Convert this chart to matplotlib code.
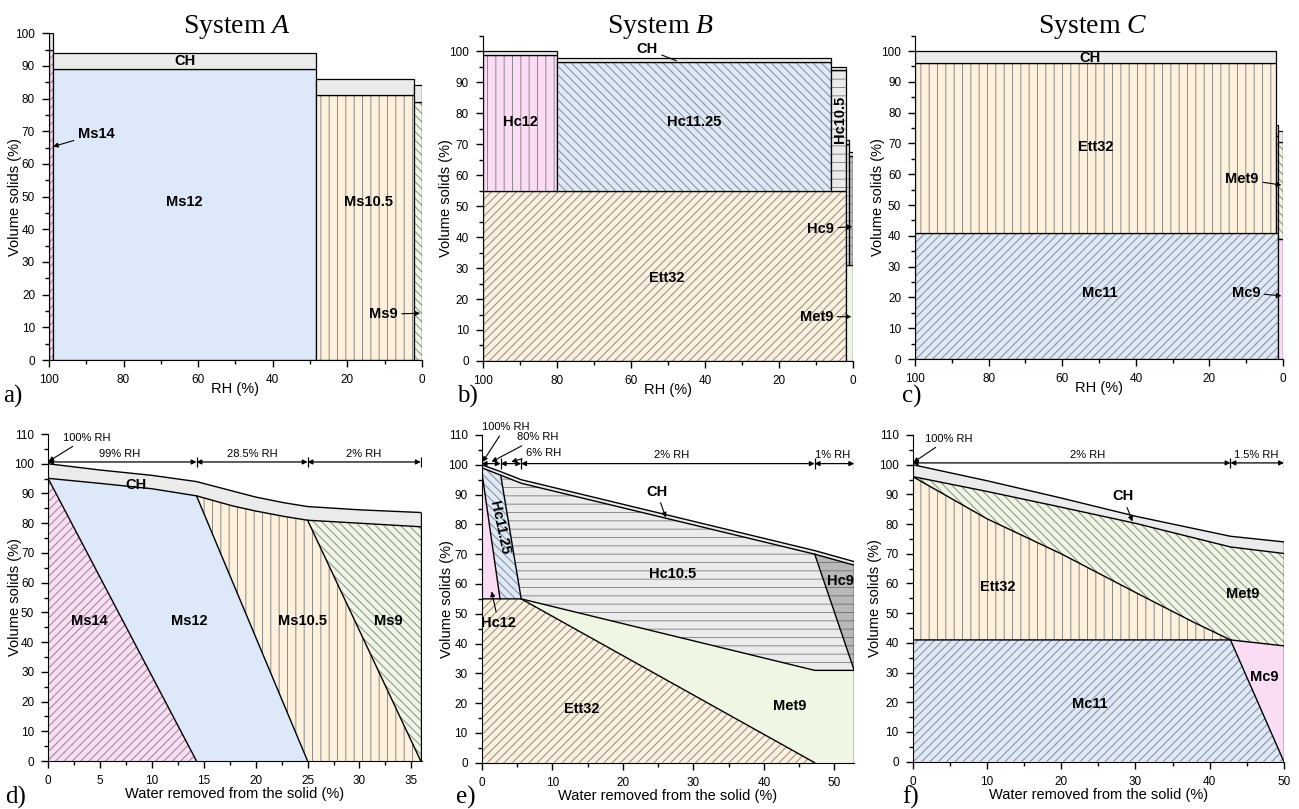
import numpy as np
import matplotlib
matplotlib.use('Agg')
import matplotlib.pyplot as plt
from matplotlib.ticker import MultipleLocator

plt.rcParams['font.family'] = ['Liberation Sans', 'DejaVu Sans']
plt.rcParams['mathtext.fontset'] = 'custom'
plt.rcParams['mathtext.rm'] = 'Liberation Serif'
plt.rcParams['mathtext.it'] = 'Liberation Serif:italic'
plt.rcParams['hatch.linewidth'] = 0.7

PINK = '#fbdcf5'
BLUE = '#dde8f8'
CREAM = '#fdf0dc'
GREEN = '#eff7e4'
LGRAY = '#ebebeb'
DGRAY = '#b8b8b8'
HATCH = '#8a8a8a'

# ---------- panels a-c : phase volumes per RH step ----------
rh_a = [100, 99, 28.5, 2, 0]
ms14_a = [95, 0, 0, 0]
ms12_a = [0, 89, 0, 0]
ms105_a = [0, 0, 81, 0]
ms9_a = [0, 0, 0, 79]
ch_a = [5, 5, 5, 5]

rh_b = [100, 80, 6, 2, 1, 0]
ett32_b = [55, 55, 55, 0, 0]
met9_b = [0, 0, 0, 31, 31]
hc12_b = [43.7, 0, 0, 0, 0]
hc1125_b = [0, 41.5, 0, 0, 0]
hc105_b = [0, 0, 38.8, 39, 0]
hc9_b = [0, 0, 0, 0, 35.3]
ch_b = [1.3, 1.2, 1.2, 1.2, 1.2]

rh_c = [100, 2, 1.5, 0]
mc11_c = [41, 41, 0]
mc9_c = [0, 0, 39]
ett32_c = [55, 0, 0]
met9_c = [0, 31.5, 31.5]
ch_c = [4, 3.5, 3.5]

# ---------- panel d ----------
d_x = [0, 5, 10, 14.3, 17.8, 20, 22.7, 25, 30, 35.9]
d_ch_top = [100, 97.9, 96.1, 94, 90.8, 88.8, 86.9, 85.6, 84.5, 83.6]
d_ch_bot = [95.1, 93.4, 91.6, 89.2, 85.8, 84.1, 82.3, 81, 80, 78.8]
d_front_top = [0, 0, 14.3, 25, 35.9]     # phase fronts, x at CH line
d_front_bot = [0, 14.3, 25, 35.9, 35.9]  # phase fronts, x at zero
d_steps = [0, 14.3, 25, 35.9]
d_step_lab = ['99% RH', '28.5% RH', '2% RH']
d_step_lx = [6.85, 19.7, 30.4]

# ---------- panel e ----------
e_x = [0, 2.7, 5.6, 47.2, 52.8]
e_ch_top = [100, 97.7, 95, 71.2, 67.5]
e_ch_bot = [99, 96.5, 93.8, 70, 66.3]
e_hc12_x = [0, 2.6]
e_hc12_y = [98, 55]
e_hc1125_x = [2.7, 5.6]
e_hc1125_y = [96.5, 55]
e_ett_x = [0, 5.6, 47.2]
e_ett_y = [55, 55, 0]
e_met_x = [5.6, 47.2, 52.8]
e_met_y = [55, 31, 31]
e_hc9_x = [47.2, 52.8]
e_hc9_y = [70, 31]
e_steps = [0, 2.7, 5.6, 47.2, 52.8]
e_step_lab = [None, None, '2% RH', '1% RH']
e_step_lx = [0, 0, 26.9, 49.8]

# ---------- panel f ----------
f_x = [0, 10, 19.8, 30.1, 42.8, 50]
f_ch_top = [100, 94.6, 88.9, 82.6, 75.9, 74]
f_ch_bot = [96, 91, 85.8, 80.2, 72.3, 70.1]
f_ett_x = [0, 5, 10, 20, 30, 37.8, 42.8]
f_ett_y = [96, 88.9, 81.8, 70, 57, 47, 41]
f_mc_x = [0, 42.8, 50]
f_mc_y = [41, 41, 39]
f_front_x = [42.8, 50]
f_front_y = [41, 0]
f_steps = [0, 42.8, 50]
f_step_lab = ['2% RH', '1.5% RH']
f_step_lx = [23.6, 46.3]


def style(ax, xlim, ylim, xmaj, xmin, xlabel, lpad, ylx):
    ax.set_xlim(*xlim)
    ax.set_ylim(*ylim)
    ax.spines[['top', 'right']].set_visible(False)
    ax.xaxis.set_major_locator(MultipleLocator(xmaj))
    ax.xaxis.set_minor_locator(MultipleLocator(xmin))
    ax.yaxis.set_major_locator(MultipleLocator(10))
    ax.yaxis.set_minor_locator(MultipleLocator(5))
    ax.tick_params(which='major', direction='out', length=5, width=1, labelsize=8.5, pad=5)
    ax.tick_params(which='minor', direction='out', length=3, width=1)
    ax.set_ylabel('Volume solids (%)', fontsize=10.5)
    ax.yaxis.set_label_coords(ylx, 0.5)
    ax.set_xlabel(xlabel, fontsize=10.5, labelpad=lpad)


def steps(ax, edges, layers):
    edges = np.asarray(edges, float)
    n = len(edges) - 1
    base = np.zeros(n)
    for vals, fc, hatch in layers:
        vals = np.asarray(vals, float)
        i = 0
        while i < n:
            if vals[i] <= 0:
                i += 1
                continue
            j = i
            while j + 1 < n and vals[j + 1] == vals[i] and base[j + 1] == base[i]:
                j += 1
            x0, w = edges[i], edges[j + 1] - edges[i]
            ax.bar(x0, vals[i], w, bottom=base[i], align='edge', color=fc,
                   edgecolor=HATCH, hatch=hatch, linewidth=0)
            ax.bar(x0, vals[i], w, bottom=base[i], align='edge', fill=False,
                   edgecolor='k', linewidth=0.9)
            i = j + 1
        base = base + vals


def seg(x, y, a, b):
    xs = [a] + [v for v in x if a < v < b] + [b]
    return xs, list(np.interp(xs, x, y))


def poly(ax, xs, ys, fc, hatch=None, ec=HATCH):
    ax.fill(xs, ys, facecolor=fc, edgecolor=ec, hatch=hatch, linewidth=0)


def label(ax, x, y, s, **kw):
    ax.text(x, y, s, ha='center', va='center', fontsize=10.5, fontweight='bold', **kw)


def pointer(ax, s, tip, pos, bold=True, fs=10.5, ha='center'):
    ax.annotate(s, xy=tip, xytext=pos, ha=ha, va='center', fontsize=fs,
                fontweight='bold' if bold else 'normal',
                arrowprops=dict(arrowstyle='-|>', color='k', lw=0.8, mutation_scale=7,
                                shrinkA=1, shrinkB=0))


def rh_bar(ax, edges, labs, lxs, y=100.6, ly=103.4):
    for x0, x1, lab, lx in zip(edges[:-1], edges[1:], labs, lxs):
        ax.annotate('', xy=(x1, y), xytext=(x0, y),
                    arrowprops=dict(arrowstyle='<|-|>', color='k', lw=0.9, mutation_scale=7,
                                    shrinkA=0, shrinkB=0))
        if lab:
            ax.text(lx, ly, lab, ha='center', va='center', fontsize=8)
    ax.vlines(edges[1:], y - 1.8, y + 1.8, color='k', lw=0.9)


fig = plt.figure(figsize=(12.99, 8.09), dpi=100)
ax_a = fig.add_axes([0.0377, 0.555, 0.287, 0.404])
ax_b = fig.add_axes([0.3716, 0.5538, 0.2851, 0.4021])
ax_c = fig.add_axes([0.7044, 0.5562, 0.2833, 0.3997])
ax_d = fig.add_axes([0.0370, 0.0593, 0.2877, 0.4042])
ax_e = fig.add_axes([0.3708, 0.0572, 0.2868, 0.4051])
ax_f = fig.add_axes([0.7026, 0.0585, 0.2858, 0.4038])

# ---- a ----
steps(ax_a, rh_a, [(ms14_a, PINK, '////'), (ms12_a, BLUE, None), (ms105_a, CREAM, '||'),
                   (ms9_a, GREEN, '\\\\\\\\'), (ch_a, LGRAY, None)])
style(ax_a, (100, 0), (0, 100), 20, 10, 'RH (%)', -2.5, -0.073)
label(ax_a, 63.5, 91.5, 'CH')
label(ax_a, 63.8, 48.2, 'Ms12')
label(ax_a, 14.3, 48.2, 'Ms10.5')
pointer(ax_a, 'Ms14', (98.9, 65.3), (87.3, 69.2))
pointer(ax_a, 'Ms9', (0.45, 14.3), (10.3, 14))

# ---- b ----
steps(ax_b, rh_b, [(ett32_b, CREAM, '////'), (met9_b, GREEN, None), (hc12_b, PINK, '||'),
                   (hc1125_b, BLUE, '\\\\\\\\'), (hc105_b, LGRAY, '--'), (hc9_b, DGRAY, '--'),
                   (ch_b, LGRAY, None)])
style(ax_b, (100, 0), (0, 105), 20, 10, 'RH (%)', -2.5, -0.081)
label(ax_b, 89.7, 77, 'Hc12')
label(ax_b, 42.9, 77, 'Hc11.25')
label(ax_b, 50.4, 26.7, 'Ett32')
label(ax_b, 3.4, 77.9, 'Hc10.5', rotation=90)
ax_b.annotate('CH', xy=(47.7, 96.9), xytext=(55.6, 100.6), ha='center', va='center', fontsize=10.5,
              fontweight='bold', arrowprops=dict(arrowstyle='-', color='k', lw=0.8, shrinkA=1, shrinkB=0))
pointer(ax_b, 'Hc9', (0.2, 43.4), (8.8, 42.6))
pointer(ax_b, 'Met9', (0.45, 14.3), (9.9, 14.3))

# ---- c ----
steps(ax_c, rh_c, [(mc11_c, BLUE, '////'), (mc9_c, PINK, None), (ett32_c, CREAM, '||'),
                   (met9_c, GREEN, '\\\\\\\\'), (ch_c, LGRAY, None)])
style(ax_c, (100, 0), (0, 105), 20, 10, 'RH (%)', -2.5, -0.082)
label(ax_c, 52.5, 97.6, 'CH')
label(ax_c, 51, 69, 'Ett32')
label(ax_c, 49.8, 21.6, 'Mc11')
pointer(ax_c, 'Met9', (0.45, 56.5), (11.1, 58.4))
pointer(ax_c, 'Mc9', (0.45, 20.5), (10.1, 21.6))

# ---- d ----
d_fc = [(PINK, '////'), (BLUE, None), (CREAM, '||'), (GREEN, '\\\\\\\\')]
for i, (fc, h) in enumerate(d_fc):
    xs, ys = seg(d_x, d_ch_bot, d_front_top[i], d_front_top[i + 1])
    xs = [d_front_bot[i]] + xs + [d_front_bot[i + 1]]
    ys = [0] + ys + [0]
    poly(ax_d, xs, ys, fc, h)
poly(ax_d, d_x + d_x[::-1], d_ch_top + d_ch_bot[::-1], LGRAY)
ax_d.plot(d_x, d_ch_top, color='k', lw=1)
ax_d.plot(d_x, d_ch_bot, color='k', lw=1)
for xt, xb in zip(d_front_top[1:-1], d_front_bot[1:-1]):
    ax_d.plot([xt, xb], [np.interp(xt, d_x, d_ch_bot), 0], color='k', lw=1)
ax_d.plot([d_x[-1], d_x[-1]], [0, d_ch_top[-1]], color='k', lw=1)
style(ax_d, (0, 36), (0, 110), 5, 2.5, 'Water removed from the solid (%)', 0, -0.07)
rh_bar(ax_d, d_steps, d_step_lab, d_step_lx)
pointer(ax_d, '100% RH', (0.05, 100.8), (1.4, 108.7), bold=False, fs=8, ha='left')
label(ax_d, 8.5, 93, 'CH')
label(ax_d, 3.95, 47, 'Ms14')
label(ax_d, 13.6, 47, 'Ms12')
label(ax_d, 24.5, 47, 'Ms10.5')
label(ax_d, 32.8, 47, 'Ms9')

# ---- e ----
poly(ax_e, [0] + e_ett_x, [0] + e_ett_y, CREAM, '////')
poly(ax_e, e_met_x + [e_met_x[-1], e_ett_x[-1]], e_met_y + [0, 0], GREEN)
poly(ax_e, [0] + e_hc12_x, [55] + e_hc12_y, PINK)
poly(ax_e, [0, 0] + e_hc1125_x + [e_hc12_x[-1]], [e_hc12_y[0], e_ch_bot[0]] + e_hc1125_y + [55],
     BLUE, '\\\\\\\\')
xs, ys = seg(e_x, e_ch_bot, e_hc1125_x[0], e_hc9_x[0])
poly(ax_e, xs + [e_hc9_x[-1]] + e_met_x[1::-1] + [e_hc1125_x[-1]],
     ys + [e_hc9_y[-1]] + e_met_y[1::-1] + [e_hc1125_y[-1]], LGRAY, '--')
poly(ax_e, e_hc9_x + [e_hc9_x[-1]], [e_hc9_y[0], e_ch_bot[-1], e_hc9_y[-1]], DGRAY, '--', ec='#7a7a7a')
poly(ax_e, e_x + e_x[::-1], e_ch_top + e_ch_bot[::-1], LGRAY)
for xx, yy in [(e_x, e_ch_top), (e_x, e_ch_bot), (e_hc12_x, e_hc12_y), (e_hc1125_x, e_hc1125_y),
               (e_ett_x, e_ett_y), (e_met_x, e_met_y), (e_hc9_x, e_hc9_y)]:
    ax_e.plot(xx, yy, color='k', lw=1)
ax_e.plot([e_x[-1], e_x[-1]], [0, e_ch_top[-1]], color='k', lw=1)
style(ax_e, (0, 52.8), (0, 110), 10, 5, 'Water removed from the solid (%)', 0, -0.074)
rh_bar(ax_e, e_steps, e_step_lab, e_step_lx, y=100.4, ly=103.2)
pointer(ax_e, '100% RH', (0.15, 101.0), (0.0, 112.7), bold=False, fs=8, ha='left')
pointer(ax_e, '80% RH', (1.4, 101.0), (5.0, 109.2), bold=False, fs=8, ha='left')
pointer(ax_e, '6% RH', (4.2, 101.0), (6.3, 104.0), bold=False, fs=8, ha='left')
ax_e.annotate('CH', xy=(26.1, 82.3), xytext=(24.8, 91), ha='center', va='center', fontsize=10.5,
              fontweight='bold', arrowprops=dict(arrowstyle='-|>', color='k', lw=0.8,
                                                 mutation_scale=7, shrinkA=1, shrinkB=0))
label(ax_e, 2.5, 79, 'Hc11.25', rotation=-78)
pointer(ax_e, 'Hc12', (1.4, 57.5), (2.4, 46.9))
label(ax_e, 27, 63.4, 'Hc10.5')
label(ax_e, 50.8, 61, 'Hc9')
label(ax_e, 43.6, 19, 'Met9')
label(ax_e, 14.2, 18.2, 'Ett32')

# ---- f ----
poly(ax_f, [0, 0, f_mc_x[1], f_front_x[-1]], [0, f_mc_y[0], f_mc_y[1], 0], BLUE, '////')
poly(ax_f, f_mc_x[1:] + [f_front_x[-1]], f_mc_y[1:] + [0], PINK)
poly(ax_f, [0] + f_ett_x, [f_mc_y[0]] + f_ett_y, CREAM, '||')
poly(ax_f, f_ett_x + [f_mc_x[-1]] + f_x[::-1], f_ett_y + [f_mc_y[-1]] + f_ch_bot[::-1],
     GREEN, '\\\\\\\\')
poly(ax_f, f_x + f_x[::-1], f_ch_top + f_ch_bot[::-1], LGRAY)
for xx, yy in [(f_x, f_ch_top), (f_x, f_ch_bot), (f_ett_x, f_ett_y), (f_mc_x, f_mc_y),
               (f_front_x, f_front_y)]:
    ax_f.plot(xx, yy, color='k', lw=1)
ax_f.plot([f_x[-1], f_x[-1]], [0, f_ch_top[-1]], color='k', lw=1)
style(ax_f, (0, 50), (0, 110), 10, 5, 'Water removed from the solid (%)', 0, -0.083)
rh_bar(ax_f, f_steps, f_step_lab, f_step_lx)
pointer(ax_f, '100% RH', (0.1, 100.8), (1.6, 108.7), bold=False, fs=8, ha='left')
ax_f.annotate('CH', xy=(29.6, 80.9), xytext=(28.3, 89.3), ha='center', va='center', fontsize=10.5,
              fontweight='bold', arrowprops=dict(arrowstyle='-|>', color='k', lw=0.8,
                                                 mutation_scale=7, shrinkA=1, shrinkB=0))
label(ax_f, 11.4, 58.9, 'Ett32')
label(ax_f, 44.5, 56.6, 'Met9')
label(ax_f, 47.3, 28.6, 'Mc9')
label(ax_f, 23.9, 19.4, 'Mc11')

# titles and panel letters
for xc, s in [(0.1824, 'System $A$'), (0.5081, 'System $B$'), (0.8414, 'System $C$')]:
    fig.text(xc, 1 - 33 / 809, s, ha='center', va='baseline', fontsize=20, family='Liberation Serif')
for xp, yp, s in [(3, 396, 'a)'), (457, 396, 'b)'), (902, 396, 'c)'),
                  (5, 797, 'd)'), (456, 797, 'e)'), (902, 797, 'f)')]:
    fig.text(xp / 1299, 1 - yp / 809, s, ha='left', va='center', fontsize=18, family='Liberation Serif')

fig.savefig('out.png', dpi=100)
